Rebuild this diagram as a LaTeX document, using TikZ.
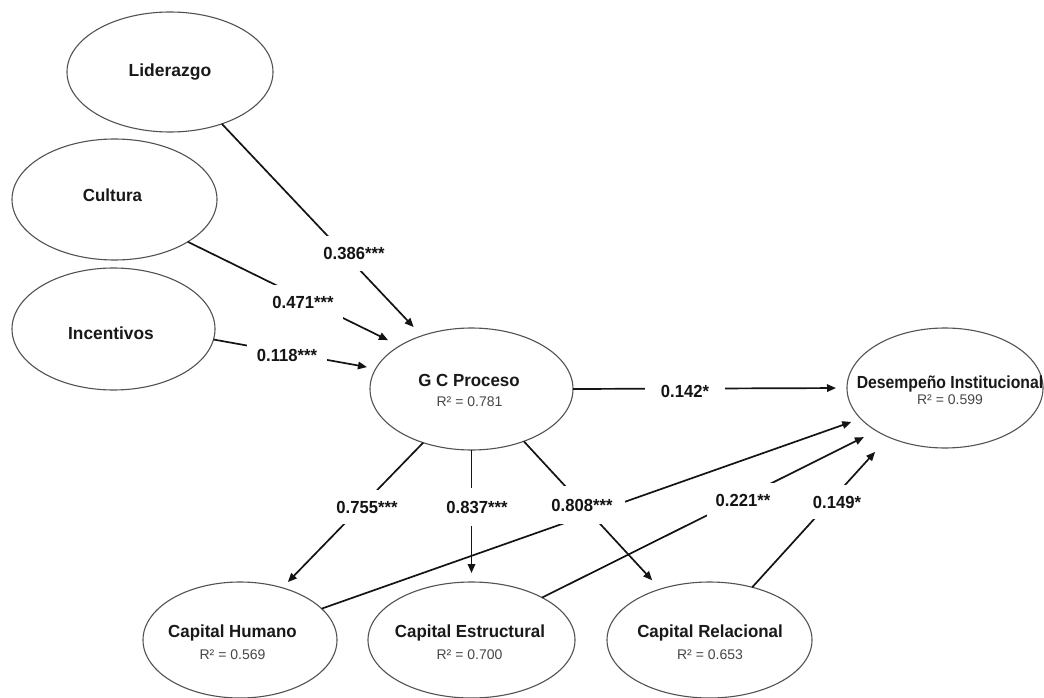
\documentclass[tikz,border=0pt]{standalone}
\usepackage{fontspec}
\usepackage{graphicx}
\setmainfont{Liberation Sans}
\usetikzlibrary{arrows.meta,shapes.geometric}

% construct names (bold), R-squared values and path coefficients
\newcommand\nm[2][0.965]{\scalebox{#1}[1]{\fontsize{17.5bp}{19bp}\selectfont\bfseries #2}}
\newcommand\rsq[1]{{\fontsize{14bp}{16bp}\selectfont R² = #1}}
\newcommand\cf[1]{\scalebox{0.95}[1]{\fontsize{17.5bp}{19bp}\selectfont\bfseries #1}}

\begin{document}
\begin{tikzpicture}[x=1bp,y=-1bp,
  latent/.style={ellipse, draw=black!68, line width=1.1bp, inner sep=0pt, outer sep=0pt},
  nametxt/.style={anchor=base, inner sep=0pt, text=black!90},
  rtxt/.style={anchor=base, inner sep=0pt, text=black!72},
  link/.style={draw=black!92, line width=1.7bp},
  arr/.style={link, -{Triangle[length=9bp,width=7.5bp]}},
  coef/.style={fill=white, inner xsep=9bp, inner ysep=11bp, text=black!92}
]
\path[use as bounding box, fill=white] (0,0) rectangle (1044,698);

% latent constructs
\node[latent, minimum width=206bp, minimum height=120bp] (lid) at (170,72) {};
\node[latent, minimum width=205bp, minimum height=121bp] (cul) at (114.5,199.5) {};
\node[latent, minimum width=203bp, minimum height=122bp] (inc) at (113.5,329) {};
\node[latent, minimum width=203bp, minimum height=122bp] (gc)  at (471.5,389) {};
\node[latent, minimum width=196bp, minimum height=120bp] (des) at (945,388) {};
\node[latent, minimum width=194bp, minimum height=116bp] (ch)  at (240,640) {};
\node[latent, minimum width=207bp, minimum height=116bp] (ce)  at (471.5,640) {};
\node[latent, minimum width=205bp, minimum height=116bp] (cr)  at (709.5,640) {};

% construct labels
\node[nametxt] (lid-t) at (170,77)   {\nm[1]{Liderazgo}};
\node[nametxt] (cul-t) at (112.5,202) {\nm{Cultura}};
\node[nametxt] (inc-t) at (111,339)  {\nm[0.99]{Incentivos}};
\node[nametxt] (gc-t)  at (469,386)  {\nm{G C Proceso}};
\node[rtxt]    (gc-r)  at (469.5,406) {\rsq{0.781}};
\node[nametxt] (des-t) at (950,388)  {\nm[0.9]{Desempeño Institucional}};
\node[rtxt]    (des-r) at (950,404)  {\rsq{0.599}};
\node[nametxt] (ch-t)  at (232.5,637) {\nm{Capital Humano}};
\node[rtxt]    (ch-r)  at (232.5,659) {\rsq{0.569}};
\node[nametxt] (ce-t)  at (470,637)  {\nm{Capital Estructural}};
\node[rtxt]    (ce-r)  at (469.5,659) {\rsq{0.700}};
\node[nametxt] (cr-t)  at (710,637)  {\nm{Capital Relacional}};
\node[rtxt]    (cr-r)  at (710,659)  {\rsq{0.653}};

% structural paths
\draw[arr, shorten >=12bp] (lid.-45) -- (gc.133);
\draw[arr, shorten >=13bp] (cul.-30) -- (gc.149);
\draw[arr, shorten >=9bp]  (inc.-6)  -- (gc.168);
\draw[arr, shorten >=11bp] (gc.0)    -- (des.180);
\draw[arr, shorten >=8bp]  (gc.228)  -- (ch.51);
\draw[arr, shorten >=9bp]  (gc.270)  -- (ce.90);
\draw[arr, shorten >=12bp] (gc.-45)  -- (cr.134);
\draw[arr, shorten >=10bp] (ch.21)   -- (des.200);
\draw[arr, shorten >=14bp] (ce.31)   -- (des.212);
\draw[arr, shorten >=20bp] (cr.51)   -- (des.221);

% path coefficients
\node[coef] (c-lid) at (354,253.5) {\cf{0.386***}};
\node[coef] (c-cul) at (303,302)   {\cf{0.471***}};
\node[coef, inner xsep=10bp] (c-inc) at (287,355) {\cf{0.118***}};
\node[coef, inner xsep=16bp] (c-des) at (685,391) {\cf{0.142*}};
\node[coef] (c-ch)  at (367,507)   {\cf{0.755***}};
\node[coef, inner ysep=13bp] (c-ce) at (477,507) {\cf{0.837***}};
\node[coef, inner xsep=12bp, inner ysep=13bp] (c-cr) at (582,505) {\cf{0.808***}};
\node[coef] (c-ce2) at (743,500)   {\cf{0.221**}};
\node[coef] (c-cr2) at (837,502)   {\cf{0.149*}};
\end{tikzpicture}
\end{document}
